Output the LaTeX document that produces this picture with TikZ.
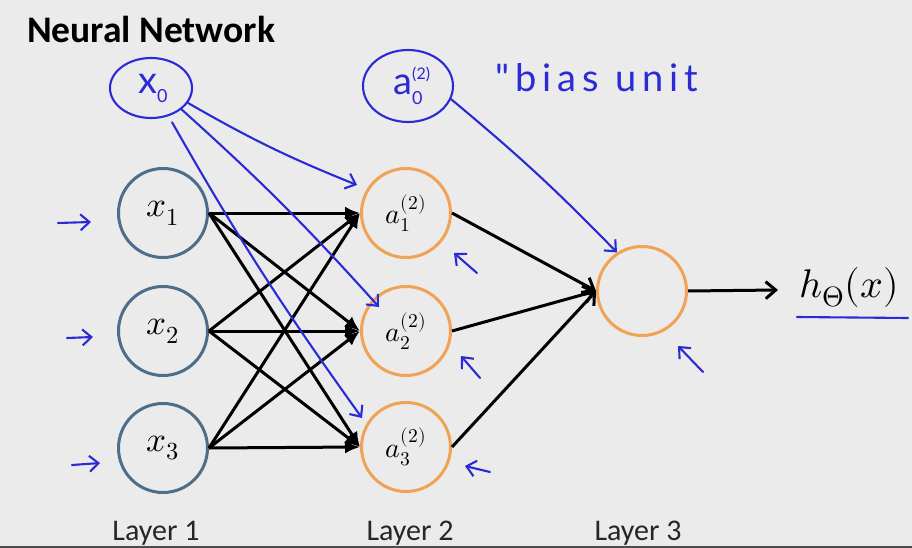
\documentclass[tikz,border=0pt]{standalone}
\usepackage{fontspec}
\usepackage{unicode-math}
\setmainfont{Carlito}
\setmathfont{Latin Modern Math}
\newfontfamily\handfont{Lato}
\usetikzlibrary{arrows.meta,shapes.geometric}
\definecolor{bgc}{HTML}{EBEBEB}
\definecolor{inc}{HTML}{4E6D88}
\definecolor{orc}{HTML}{F0A255}
\definecolor{pen}{HTML}{2A2AD6}
\tikzset{
  neuron/.style={circle,draw,line width=3pt,minimum size=89pt,inner sep=0pt,fill=bgc},
  innode/.style={neuron,draw=inc,font=\fontsize{35}{37}\selectfont},
  hidnode/.style={neuron,draw=orc,font=\fontsize{28}{30}\selectfont},
  wire/.style={line width=3pt,black,-{Latex[length=15pt,width=13pt]}},
  wireb/.style={line width=3pt,black,-{Straight Barb[length=10pt,width=17pt,line width=3pt]}},
  pen/.style={draw=pen,line width=2.1pt,line cap=round,line join=round},
  penarrow/.style={pen,-{Straight Barb[length=9pt,width=16pt,line width=2.1pt]}},
  layerlabel/.style={font=\fontsize{30}{32}\selectfont,text=black!85,anchor=base},
  handtext/.style={text=pen,font=\handfont\fontsize{38}{40}\selectfont,inner sep=0pt}
}
\begin{document}
\begin{tikzpicture}[x=1pt,y=-1pt]
\fill[bgc] (0,0) rectangle (912,548);
\useasboundingbox (0,0) rectangle (912,548);
\draw[black!70,line width=2pt] (0,547) -- (912,547);

\node[anchor=base west,inner sep=0pt,font=\bfseries\fontsize{37.5}{40}\selectfont] (title) at (27,43) {Neural Network};

% layer 1
\node[innode] (x1) at (163,213) {$x_1$};
\node[innode] (x2) at (163,331) {$x_2$};
\node[innode] (x3) at (163,448) {$x_3$};
% layer 2
\node[hidnode] (a1) at (406,213) {$a_1^{(2)}$};
\node[hidnode] (a2) at (406,331) {$a_2^{(2)}$};
\node[hidnode] (a3) at (406,447) {$a_3^{(2)}$};
% layer 3
\node[neuron,draw=orc] (o) at (642,291) {};
\coordinate (oend) at (778,290);
\node[anchor=base,inner sep=0pt,font=\fontsize{40}{44}\selectfont] (h) at (849,297) {$h_\Theta(x)$};

\foreach \i in {1,2,3}{
  \foreach \j in {1,2,3}{
    \draw[wire] (x\i.east) -- (a\j.west);
  }
  \draw[wireb] (a\i.east) -- (o.west);
}
\draw[wireb] (o.east) -- (oend);

\node[layerlabel] (l1) at (156,540) {Layer 1};
\node[layerlabel] (l2) at (410,540) {Layer 2};
\node[layerlabel] (l3) at (638,540) {Layer 3};

% handwritten annotations
\node[ellipse,pen,handtext,minimum width=82pt,minimum height=60pt] (x0) at (151,88)
  {\hspace{4pt}x\raisebox{-9pt}{\fontsize{18}{18}\selectfont 0}};
\node[ellipse,pen,handtext,minimum width=90pt,minimum height=72pt] (a0) at (408,86)
  {a\makebox[0pt][l]{\raisebox{15pt}{\fontsize{16}{16}\selectfont (2)}}\raisebox{-10pt}{\fontsize{18}{18}\selectfont 0}\hspace{14pt}};
\node[handtext,anchor=base west] (bias) at (495,92) {\addfontfeature{LetterSpace=16}"bias unit};

\coordinate (e1) at (357,185);
\coordinate (e2) at (379,307);
\coordinate (e3) at (362,418);
\draw[penarrow] (x0.-22) to[bend right=4] (e1);
\draw[penarrow] (x0.-35) to[bend left=3] (e2);
\draw[penarrow,shorten <=7pt] (x0.-58) to[bend right=3] (e3);
\draw[penarrow] (a0.-17) to[bend left=3] (o.123);
\coordinate (u1) at (797,317); \coordinate (u2) at (908,318);
\draw[pen] (u1) -- (u2);

% small arrows
\coordinate (s1a) at (58,223); \coordinate (s1b) at (91,222);
\coordinate (s2a) at (67,338); \coordinate (s2b) at (93,337);
\coordinate (s3a) at (72,465); \coordinate (s3b) at (100,463);
\draw[penarrow] (s1a) -- (s1b);
\draw[penarrow] (s2a) -- (s2b);
\draw[penarrow] (s3a) -- (s3b);
\coordinate (t1a) at (477,273); \coordinate (t1b) at (454,253);
\coordinate (t2a) at (480,378); \coordinate (t2b) at (461,356);
\coordinate (t3a) at (490,472); \coordinate (t3b) at (465,466);
\coordinate (t4a) at (703,372); \coordinate (t4b) at (678,346);
\draw[penarrow] (t1a) -- (t1b);
\draw[penarrow] (t2a) -- (t2b);
\draw[penarrow] (t3a) -- (t3b);
\draw[penarrow] (t4a) -- (t4b);
\end{tikzpicture}
\end{document}
